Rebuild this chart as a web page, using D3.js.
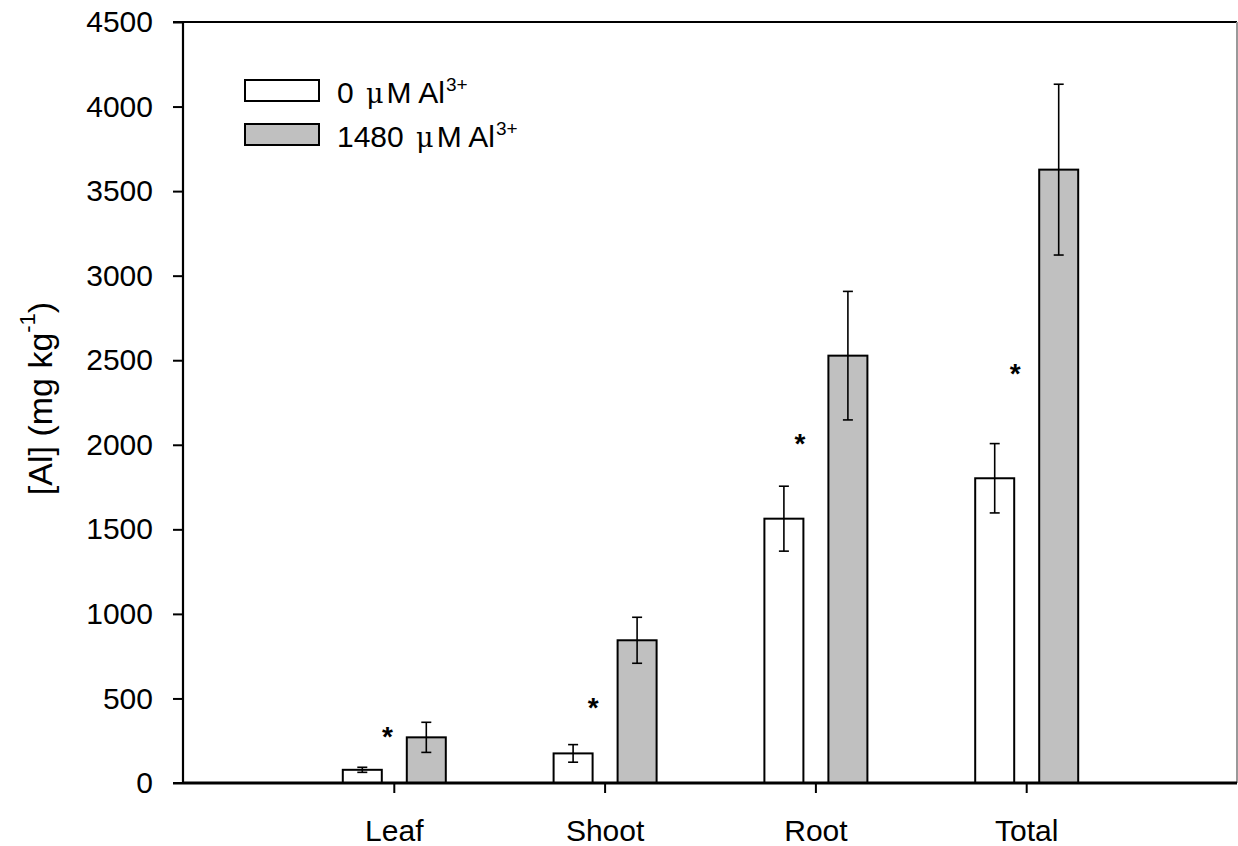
<!DOCTYPE html>
<html>
<head>
<meta charset="utf-8">
<script src="https://cdn.jsdelivr.net/npm/d3@7/dist/d3.min.js"></script>
<style>
  html, body { margin: 0; padding: 0; background: #fff; }
  svg { display: block; font-family: Arial, "Liberation Sans", sans-serif; }
</style>
</head>
<body>
<svg id="chart" width="1238" height="846"></svg>
<script>
// Aluminium concentration by tissue, two Al3+ treatments
const categories = ["Leaf", "Shoot", "Root", "Total"];
const control = [78, 175, 1563, 1802];        // 0 µM Al3+
const controlErr = [15, 52, 192, 205];
const treated = [270, 844, 2527, 3627];       // 1480 µM Al3+
const treatedErr = [89, 136, 380, 505];
const yTicks = [0, 500, 1000, 1500, 2000, 2500, 3000, 3500, 4000, 4500];
// significance markers: category index, horizontal shift (category units), height (mg/kg)
const starCat = [0, 1, 2, 3];
const starShift = [-0.03, -0.054, -0.073, -0.052];
const starValue = [307, 479, 2040, 2454];

const svg = d3.select("#chart");
const plotL = 183, plotR = 1237, plotT = 22, plotB = 783;

const x = d3.scaleLinear().domain([0, 5]).range([plotL, plotR]);
const y = d3.scaleLinear().domain([0, 4500]).range([plotB, plotT]);

const barW = 39, gapIn = 12;

const series = [
  { name: "0", vals: control, errs: controlErr, fill: "#ffffff", x0: -(gapIn + barW) },
  { name: "1480", vals: treated, errs: treatedErr, fill: "#c0c0c0", x0: gapIn + 1 }
];

// bars
series.forEach(s => {
  const g = svg.append("g");
  g.selectAll("rect").data(s.vals).enter().append("rect")
    .attr("x", (d, i) => x(i + 1) + s.x0)
    .attr("y", d => y(d))
    .attr("width", barW)
    .attr("height", d => y(0) - y(d))
    .attr("fill", s.fill)
    .attr("stroke", "#000")
    .attr("stroke-width", 2);
});

// error bars
series.forEach(s => {
  const g = svg.append("g").attr("stroke", "#000").attr("stroke-width", 1.6);
  s.vals.forEach((v, i) => {
    const cx = x(i + 1) + s.x0 + barW / 2;
    const e = s.errs[i];
    g.append("line").attr("x1", cx).attr("x2", cx).attr("y1", y(v + e)).attr("y2", y(v - e));
    g.append("line").attr("x1", cx - 5).attr("x2", cx + 5).attr("y1", y(v + e)).attr("y2", y(v + e));
    g.append("line").attr("x1", cx - 5).attr("x2", cx + 5).attr("y1", y(v - e)).attr("y2", y(v - e));
  });
});

// significance asterisks
svg.append("g").selectAll("text").data(starCat).enter().append("text")
  .attr("x", (c, i) => x(c + 1 + starShift[i]))
  .attr("y", (c, i) => y(starValue[i]) + 15)
  .attr("text-anchor", "middle")
  .attr("font-size", 28)
  .attr("font-weight", "bold")
  .text("*");

// frame
svg.append("line").attr("x1", plotL).attr("x2", plotR).attr("y1", plotT).attr("y2", plotT)
  .attr("stroke", "#000").attr("stroke-width", 2);
svg.append("line").attr("x1", plotR).attr("x2", plotR).attr("y1", plotT).attr("y2", plotB)
  .attr("stroke", "#999").attr("stroke-width", 2);

// y axis
const yAxis = d3.axisLeft(y).tickValues(yTicks).tickSize(10).tickPadding(20).tickFormat(d3.format("d"));
const gy = svg.append("g").attr("transform", `translate(${plotL},0)`).call(yAxis);
gy.select(".domain").attr("stroke-width", 2.2).attr("d", `M-10,${plotT}H0V${plotB}H-10`);
gy.selectAll(".tick line").attr("stroke-width", 2);
gy.selectAll(".tick text").attr("font-size", 30).attr("font-family", "Arial, 'Liberation Sans', sans-serif").attr("fill", "#000");

// x axis
const xAxis = d3.axisBottom(x).tickValues([1, 2, 3, 4]).tickSize(10).tickPadding(27)
  .tickFormat(d => categories[d - 1]);
const gx = svg.append("g").attr("transform", `translate(0,${plotB})`).call(xAxis);
gx.select(".domain").attr("stroke-width", 3).attr("d", `M${plotL},0H${plotR}`);
gx.selectAll(".tick line").attr("stroke-width", 2);
gx.selectAll(".tick text").attr("font-size", 30).attr("font-family", "Arial, 'Liberation Sans', sans-serif").attr("fill", "#000");

// y axis title
const yt = svg.append("text")
  .attr("transform", `translate(52,${(plotT + plotB) / 2 - 4}) rotate(-90)`)
  .attr("text-anchor", "middle")
  .attr("font-size", 34);
yt.append("tspan").text("[Al] (mg kg");
yt.append("tspan").attr("font-size", 22).attr("dy", -17).text("-1");
yt.append("tspan").attr("dy", 17).text(")");

// legend
const legend = svg.append("g");
series.forEach((s, i) => {
  const ly = 80 + i * 44;
  legend.append("rect").attr("x", 245).attr("y", ly).attr("width", 74).attr("height", 21)
    .attr("fill", s.fill).attr("stroke", "#000").attr("stroke-width", 2);
  const t = legend.append("text").attr("x", 337).attr("y", ly + 23).attr("font-size", 30);
  t.append("tspan").text(s.name + " ");
  t.append("tspan").attr("dx", 4).attr("font-family", "'DejaVu Serif', serif").attr("font-size", 27).text("\u03bc");
  t.append("tspan").attr("dx", 3).text("M Al");
  t.append("tspan").attr("dx", 1).attr("font-size", 19).attr("dy", -12).text("3+");
});
</script>
</body>
</html>
